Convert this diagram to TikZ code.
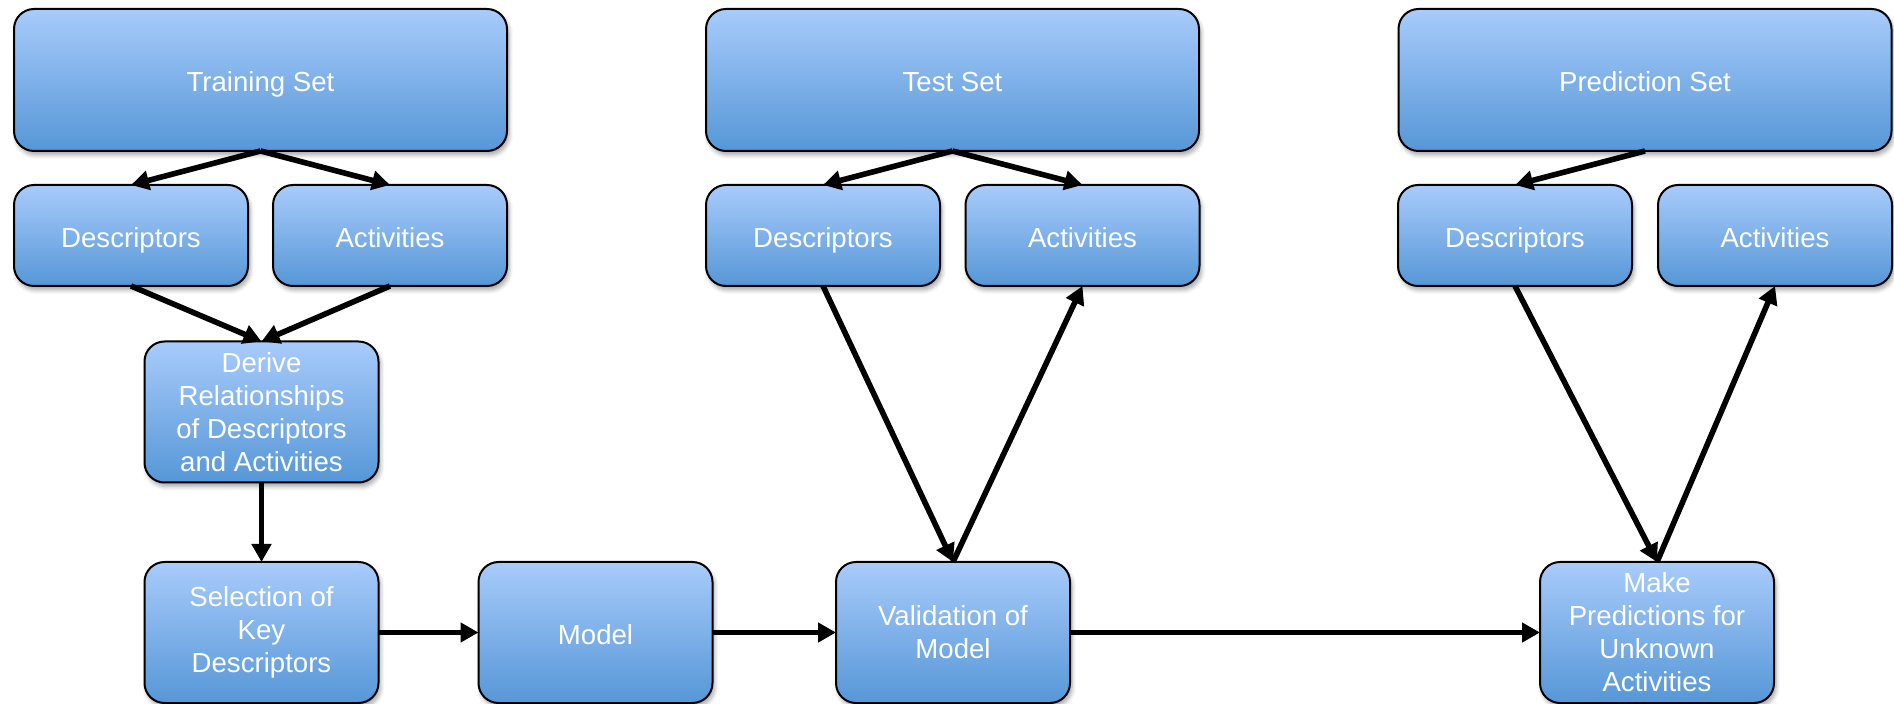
\documentclass[tikz,border=0pt]{standalone}
\usepackage{fontspec}
\setmainfont{Liberation Sans}
\usetikzlibrary{arrows.meta,shadows.blur}
\definecolor{boxtop}{RGB}{168,203,251}
\definecolor{boxbot}{RGB}{86,151,215}
\tikzset{
  box/.style={draw=black, line width=1pt, rounded corners=10pt,
    top color=boxtop, bottom color=boxbot, text=white, align=center,
    inner sep=0pt, outer sep=0pt,
    font=\fontsize{13.8}{16.5}\selectfont,
    blur shadow={shadow xshift=1pt, shadow yshift=-2pt, shadow blur steps=6, shadow opacity=35}},
  oneline/.style={text height=12.3pt, text depth=0.5pt},
  bigbox/.style={box, oneline, minimum width=246.5pt, minimum height=71pt},
  smallbox/.style={box, oneline, minimum width=117pt, minimum height=50.5pt},
  lowbox/.style={box, minimum width=117pt, minimum height=70.5pt},
  conn/.style={line width=2.8pt, -{Triangle[length=9pt,width=9.5pt]}}
}
\begin{document}
\begin{tikzpicture}[x=0.5pt,y=-0.5pt]
\useasboundingbox (0,0) rectangle (1894,704);
% training column
\node[bigbox] (train) at (260.5,80) {Training Set};
\node[smallbox] (descA) at (131,235.5) {Descriptors};
\node[smallbox] (actA) at (390,235.5) {Activities};
\node[lowbox] (derive) at (261.5,412) {Derive\\Relationships\\of Descriptors\\and Activities};
\node[lowbox] (select) at (261.5,632.5) {Selection of\\Key\\Descriptors};
\node[lowbox, oneline] (model) at (595.5,632.5) {Model};
% test column
\node[bigbox] (test) at (952.5,80) {Test Set};
\node[smallbox] (descB) at (823,235.5) {Descriptors};
\node[smallbox] (actB) at (1082.5,235.5) {Activities};
\node[lowbox] (valid) at (953,632.5) {Validation of\\Model};
% prediction column
\node[bigbox] (pred) at (1645,80) {Prediction Set};
\node[smallbox] (descC) at (1515,235.5) {Descriptors};
\node[smallbox] (actC) at (1775,235.5) {Activities};
\node[lowbox] (make) at (1657,632.5) {Make\\Predictions for\\Unknown\\Activities};
% connectors
\draw[conn] (train.south) -- (descA.north);
\draw[conn] (train.south) -- (actA.north);
\draw[conn] (descA.south) -- (derive.north);
\draw[conn] (actA.south) -- (derive.north);
\draw[conn] (derive.south) -- (select.north);
\draw[conn] (select.east) -- (model.west);
\draw[conn] (model.east) -- (valid.west);
\draw[conn] (test.south) -- (descB.north);
\draw[conn] (test.south) -- (actB.north);
\draw[conn] (descB.south) -- (valid.north);
\draw[conn] (valid.north) -- (actB.south);
\draw[conn] (valid.east) -- (make.west);
\draw[conn] (pred.south) -- (descC.north);
\draw[conn] (descC.south) -- (make.north);
\draw[conn] (make.north) -- (actC.south);
\end{tikzpicture}
\end{document}
